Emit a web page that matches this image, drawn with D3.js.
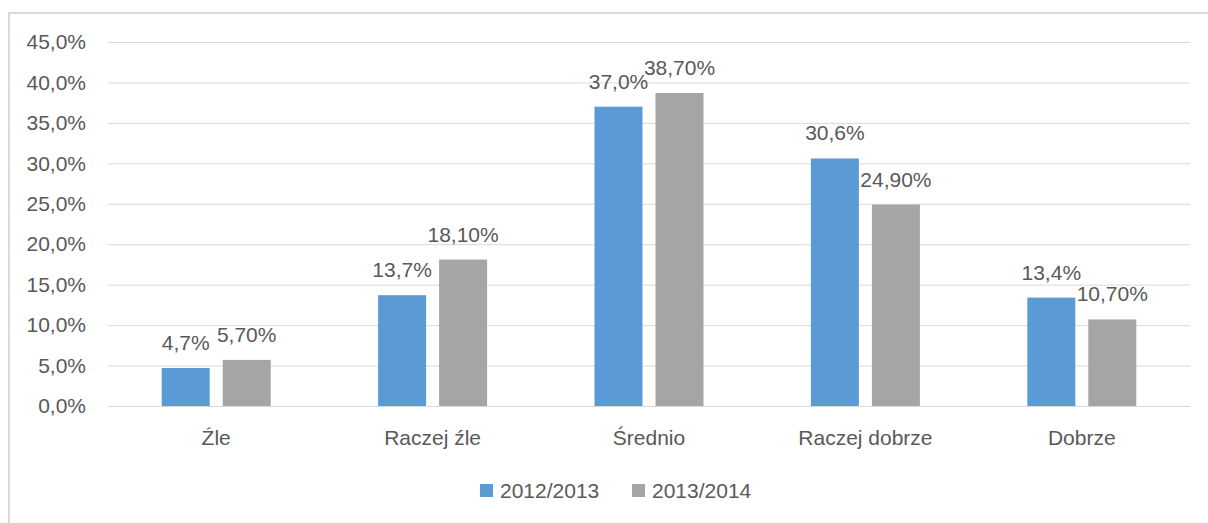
<!DOCTYPE html>
<html>
<head>
<meta charset="utf-8">
<script src="https://cdn.jsdelivr.net/npm/d3@7"></script>
<style>
  body { margin: 0; background: #fff; }
  text { font-family: "Liberation Sans", Arial, sans-serif; fill: #595959; }
</style>
</head>
<body>
<div id="chart"></div>
<script>
var categories = ["Źle", "Raczej źle", "Średnio", "Raczej dobrze", "Dobrze"];
var seriesNames = ["2012/2013", "2013/2014"];
var values2012 = [4.7, 13.7, 37.0, 30.6, 13.4];
var values2013 = [5.7, 18.1, 38.7, 24.9, 10.7];
var labels2012 = ["4,7%", "13,7%", "37,0%", "30,6%", "13,4%"];
var labels2013 = ["5,70%", "18,10%", "38,70%", "24,90%", "10,70%"];
var yTicks = [0, 5, 10, 15, 20, 25, 30, 35, 40, 45];
var colors = ["#5B9BD5", "#A5A5A5"];

var svgWidth = 1208, svgHeight = 523;
var margin = { top: 42, right: 18, bottom: 117, left: 108 };
var width = svgWidth - margin.left - margin.right;
var height = svgHeight - margin.top - margin.bottom;

var svg = d3.select("#chart").append("svg")
  .attr("width", svgWidth)
  .attr("height", svgHeight);

// outer frame (cropped on the right/bottom)
svg.append("path")
  .attr("d", "M9,523 V13 H1208")
  .attr("fill", "none")
  .attr("stroke", "#D9D9D9")
  .attr("stroke-width", 2);

var chartGroup = svg.append("g")
  .attr("transform", `translate(${margin.left}, ${margin.top})`);

var x = d3.scaleBand().domain(categories).range([0, width]);
var barW = 48, gap = 13;
var xSub = d3.scaleOrdinal().domain(seriesNames)
  .range([x.bandwidth() / 2 - gap / 2 - barW, x.bandwidth() / 2 + gap / 2]);
var y = d3.scaleLinear().domain([0, 45]).range([height, 0]);

// gridlines
chartGroup.append("g")
  .call(d3.axisLeft(y).tickValues(yTicks).tickSize(-width).tickFormat(""))
  .call(g => g.select(".domain").remove())
  .call(g => g.selectAll("line").attr("stroke", "#D9D9D9").attr("stroke-width", 1));

// y labels
chartGroup.append("g")
  .call(d3.axisLeft(y).tickValues(yTicks).tickSize(0).tickPadding(22)
    .tickFormat(d => d3.format(".1f")(d).replace(".", ",") + "%"))
  .call(g => g.select(".domain").remove())
  .call(g => g.selectAll("text").attr("font-size", 21).attr("fill", "#595959")
    .style("font-family", "'Liberation Sans', Arial, sans-serif"));

// x labels
chartGroup.append("g")
  .attr("transform", `translate(0, ${height})`)
  .call(d3.axisBottom(x).tickSize(0).tickPadding(24))
  .call(g => g.select(".domain").remove())
  .call(g => g.selectAll("text").attr("font-size", 21).attr("fill", "#595959")
    .style("font-family", "'Liberation Sans', Arial, sans-serif"));

var series = [
  { name: seriesNames[0], values: values2012, labels: labels2012, color: colors[0] },
  { name: seriesNames[1], values: values2013, labels: labels2013, color: colors[1] }
];

series.forEach(function(s) {
  var g = chartGroup.append("g");
  g.selectAll("rect")
    .data(categories)
    .enter()
    .append("rect")
    .attr("x", (d, i) => x(d) + xSub(s.name))
    .attr("y", (d, i) => y(s.values[i]))
    .attr("width", barW)
    .attr("height", (d, i) => height - y(s.values[i]))
    .attr("fill", s.color);

  g.selectAll("text")
    .data(categories)
    .enter()
    .append("text")
    .attr("x", (d, i) => x(d) + xSub(s.name) + barW / 2)
    .attr("y", (d, i) => y(s.values[i]) - 18)
    .attr("text-anchor", "middle")
    .attr("font-size", 21)
    .text((d, i) => s.labels[i]);
});

// legend
var legend = svg.append("g").attr("transform", "translate(480, 490)");
var legendX = [0, 152];
series.forEach(function(s, i) {
  legend.append("rect")
    .attr("x", legendX[i])
    .attr("y", -6)
    .attr("width", 13)
    .attr("height", 13)
    .attr("fill", s.color);
  legend.append("text")
    .attr("x", legendX[i] + 20)
    .attr("y", 8)
    .attr("font-size", 21)
    .text(s.name);
});
</script>
</body>
</html>
